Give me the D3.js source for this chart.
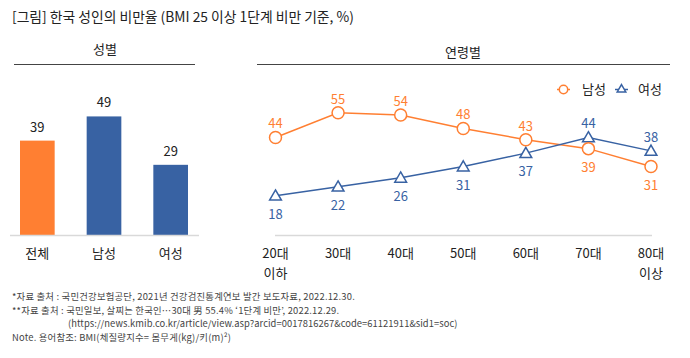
<!DOCTYPE html>
<html><head><meta charset="utf-8">
<script src="https://cdn.jsdelivr.net/npm/d3@7"></script>
<style>
body{margin:0;background:#fff;}
text{font-family:"Noto Sans CJK KR","Noto Sans",sans-serif;}
</style></head>
<body><svg id="c" width="690" height="358"></svg>
<script>
const genderCats = ["전체","남성","여성"];
const genderVals = [39,49,29];
const ageCats = [["20대","이하"],["30대"],["40대"],["50대"],["60대"],["70대"],["80대","이상"]];
const maleVals = [44,55,54,48,43,39,31];
const femaleVals = [18,22,26,31,37,44,38];
const maleLabelBelow = [false,false,false,false,false,true,true];
const femaleLabelBelow = [true,true,true,true,true,false,false];
const title = "[그림] 한국 성인의 비만율 (BMI 25 이상 1단계 비만 기준, %)";
const notes = [
 "*자료 출처 : 국민건강보험공단, 2021년 건강검진통계연보 발간 보도자료, 2022.12.30.",
 "**자료 출처 : 국민일보, 살찌는 한국인…30대 男 55.4% ‘1단계 비만’, 2022.12.29.",
 "(https://news.kmib.co.kr/article/view.asp?arcid=0017816267&code=61121911&sid1=soc)",
 "Note. 용어참조: BMI(체질량지수= 몸무게(kg)/키(m)²)"
];
const ORANGE="#FF7F32", BLUE="#3862A3";
const svg=d3.select("#c");

svg.append("text").attr("x",12).attr("y",22).attr("font-size",13.8).attr("fill","#222").text(title);

// ---- Bar panel
const bx=d3.scaleBand().domain(genderCats).range([4,204]).paddingInner(0.48).paddingOuter(0.24);
const by=d3.scaleLinear().domain([0,60]).range([235,89.8]);
svg.append("text").attr("x",105).attr("y",54).attr("text-anchor","middle").attr("font-size",13).attr("fill","#222").text("성별");
svg.append("line").attr("x1",14).attr("x2",195).attr("y1",64.5).attr("y2",64.5).attr("stroke","#444").attr("stroke-width",1);
svg.selectAll(".bar").data(genderVals).join("rect")
 .attr("x",(d,i)=>bx(genderCats[i])).attr("width",bx.bandwidth())
 .attr("y",d=>by(d)).attr("height",d=>by(0)-by(d))
 .attr("fill",(d,i)=>i===0?ORANGE:BLUE);
svg.selectAll(".bl").data(genderVals).join("text")
 .attr("x",(d,i)=>bx(genderCats[i])+bx.bandwidth()/2).attr("y",d=>by(d)-9)
 .attr("text-anchor","middle").attr("font-size",13).attr("fill","#222").text(d=>d);
svg.append("line").attr("x1",10).attr("x2",199).attr("y1",235.5).attr("y2",235.5).attr("stroke","#d9d9d9").attr("stroke-width",1.5);
svg.selectAll(".bc").data(genderCats).join("text")
 .attr("x",d=>bx(d)+bx.bandwidth()/2).attr("y",258).attr("text-anchor","middle").attr("font-size",13).attr("fill","#222").text(d=>d);

// ---- Line panel
const lx=d3.scalePoint().domain(d3.range(ageCats.length)).range([275.5,651]);
const ly=d3.scaleLinear().domain([0,60]).range([236,101.6]);
svg.append("text").attr("x",463).attr("y",57).attr("text-anchor","middle").attr("font-size",13).attr("fill","#222").text("연령별");
svg.append("line").attr("x1",257).attr("x2",670).attr("y1",64.5).attr("y2",64.5).attr("stroke","#444").attr("stroke-width",1);
svg.append("line").attr("x1",275).attr("x2",652).attr("y1",235.5).attr("y2",235.5).attr("stroke","#d9d9d9").attr("stroke-width",1.5);
const ag=svg.append("g");
ageCats.forEach((c,i)=>{
  c.forEach((t,j)=>{
    ag.append("text").attr("x",lx(i)).attr("y",258+j*20).attr("text-anchor","middle").attr("font-size",13).attr("fill","#222").text(t);
  });
});
const line=d3.line().x((d,i)=>lx(i)).y(d=>ly(d));
svg.append("path").datum(maleVals).attr("d",line).attr("fill","none").attr("stroke",ORANGE).attr("stroke-width",1.5);
svg.append("path").datum(femaleVals).attr("d",line).attr("fill","none").attr("stroke",BLUE).attr("stroke-width",1.5);
const tri=d3.symbol().type(d3.symbolTriangle).size(60);
svg.selectAll(".fm").data(femaleVals).join("path")
 .attr("transform",(d,i)=>`translate(${lx(i)},${ly(d)+1})`).attr("d",tri)
 .attr("fill","#fff").attr("stroke",BLUE).attr("stroke-width",1.5);
svg.selectAll(".mm").data(maleVals).join("circle")
 .attr("cx",(d,i)=>lx(i)).attr("cy",d=>ly(d)).attr("r",6)
 .attr("fill","#fff").attr("stroke",ORANGE).attr("stroke-width",1.5);
svg.selectAll(".ml").data(maleVals).join("text")
 .attr("x",(d,i)=>lx(i)).attr("y",(d,i)=>maleLabelBelow[i]?ly(d)+23:ly(d)-9)
 .attr("text-anchor","middle").attr("font-size",13).attr("fill",ORANGE).text(d=>d);
svg.selectAll(".fl").data(femaleVals).join("text")
 .attr("x",(d,i)=>lx(i)).attr("y",(d,i)=>femaleLabelBelow[i]?ly(d)+23:ly(d)-9)
 .attr("text-anchor","middle").attr("font-size",13).attr("fill",BLUE).text(d=>d);

// legend
const lg=svg.append("g");
lg.append("line").attr("x1",557).attr("x2",570).attr("y1",89.5).attr("y2",89.5).attr("stroke",ORANGE).attr("stroke-width",1.5);
lg.append("circle").attr("cx",563.5).attr("cy",89.5).attr("r",4.2).attr("fill","#fff").attr("stroke",ORANGE).attr("stroke-width",1.5);
lg.append("text").attr("x",582).attr("y",94).attr("font-size",13).attr("fill","#222").text("남성");
lg.append("line").attr("x1",615).attr("x2",628).attr("y1",89.5).attr("y2",89.5).attr("stroke",BLUE).attr("stroke-width",1.5);
lg.append("path").attr("transform","translate(621.5,89.5)").attr("d",d3.symbol().type(d3.symbolTriangle).size(32)).attr("fill","#fff").attr("stroke",BLUE).attr("stroke-width",1.5);
lg.append("text").attr("x",638).attr("y",94).attr("font-size",13).attr("fill","#222").text("여성");

// notes
const nx=[12,12,68,12], ny=[300,313.7,327.4,341.1];
const nls=[0.2,0.2,0.05,0.2];
notes.forEach((t,i)=>{
  svg.append("text").attr("x",nx[i]).attr("y",ny[i]).attr("font-size",9.4).attr("letter-spacing",nls[i]).attr("fill","#444").text(t);
});
</script></body></html>
